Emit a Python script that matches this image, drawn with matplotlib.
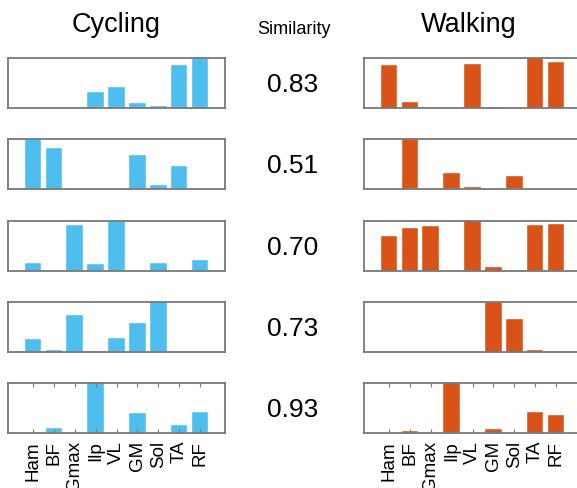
import numpy as np
import matplotlib.pyplot as plt

plt.rcParams['font.family'] = ['Liberation Sans', 'DejaVu Sans']

muscles = ['Ham', 'BF', 'Gmax', 'Ilp', 'VL', 'GM', 'Sol', 'TA', 'RF']

# synergy weights, one row per synergy
cycling = [
    [0.0, 0.0, 0.0, 0.33, 0.43, 0.10, 0.04, 0.87, 1.0],
    [1.0, 0.82, 0.0, 0.01, 0.01, 0.69, 0.08, 0.47, 0.0],
    [0.16, 0.0, 0.93, 0.14, 1.0, 0.0, 0.16, 0.0, 0.22],
    [0.26, 0.05, 0.75, 0.0, 0.28, 0.59, 1.0, 0.0, 0.0],
    [0.0, 0.10, 0.0, 1.0, 0.0, 0.41, 0.0, 0.17, 0.42],
]
walking = [
    [0.86, 0.13, 0.005, 0.0, 0.88, 0.02, 0.0, 1.0, 0.93],
    [0.0, 1.0, 0.0, 0.33, 0.05, 0.0, 0.26, 0.0, 0.005],
    [0.71, 0.87, 0.90, 0.0, 1.0, 0.09, 0.0, 0.92, 0.95],
    [0.003, 0.003, 0.0, 0.003, 0.0, 1.0, 0.67, 0.05, 0.0],
    [0.0, 0.05, 0.0, 1.0, 0.0, 0.08, 0.0, 0.42, 0.37],
]
similarity = [0.83, 0.51, 0.70, 0.73, 0.93]

W, H = 577, 489
fig = plt.figure(figsize=(W / 100, H / 100), dpi=100)

row_tops = [59, 140, 222, 303, 384]
ax_h = 50
ax_w = 217
x = np.arange(1, len(muscles) + 1)
edge = '#787878'


def panel(left, top, vals, color, last):
    ax = fig.add_axes([left / W, 1 - (top + ax_h) / H, ax_w / W, ax_h / H])
    ax.bar(x, vals, width=0.8, color=color, edgecolor='white', linewidth=0.3)
    ax.set_xlim(-0.2, 10.2)
    ax.set_ylim(0, max(vals))
    ax.set_yticks([])
    for s in ax.spines.values():
        s.set_color(edge)
        s.set_linewidth(1.3)
    if last:
        ax.set_xticks(x)
        ax.set_xticklabels(muscles, rotation=90, fontsize=13.5)
        ax.tick_params(axis='x', direction='in', length=3, color=edge,
                       top=True, pad=5)
    else:
        ax.set_xticks([])
    return ax


for i in range(5):
    panel(8, row_tops[i], cycling[i], '#4DBEEE', i == 4)
    panel(364, row_tops[i], walking[i], '#D95319', i == 4)
    fig.text(292.5 / W, 1 - (row_tops[i] + 26) / H, '%.2f' % similarity[i],
             fontsize=19, ha='center', va='center')

fig.text(116.5 / W, 1 - 25 / H, 'Cycling', fontsize=19.5, ha='center', va='center')
fig.text(469 / W, 1 - 25 / H, 'Walking', fontsize=19.5, ha='center', va='center')
fig.text(293.7 / W, 1 - 30 / H, 'Similarity', fontsize=13, ha='center', va='center')

fig.savefig('out.png', dpi=100)
